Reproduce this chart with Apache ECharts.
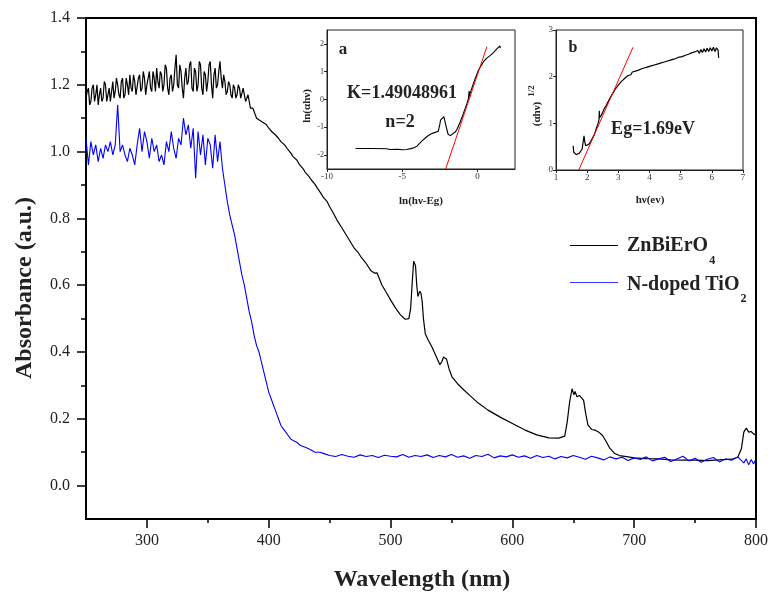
<!DOCTYPE html>
<html><head><meta charset="utf-8">
<script src="https://cdn.jsdelivr.net/npm/echarts@6/dist/echarts.min.js"></script>
<style>html,body{margin:0;padding:0;background:#fff}#c{width:771px;height:598px}</style>
</head><body><div id="c"></div>
<script>
// ---- main plot data (wavelength nm, absorbance a.u.) ----
const znBiErO4 = [
[250,1.16],[251,1.18],[252,1.19],[253,1.14],[254,1.15],[255,1.19],[256,1.2],[257,1.15],[258,1.17],[259,1.2],
[260,1.14],[261,1.17],[262,1.19],[263,1.15],[264,1.16],[265,1.21],[266,1.2],[267,1.15],[268,1.17],[269,1.19],
[270,1.15],[271,1.18],[272,1.21],[273,1.16],[274,1.18],[275,1.22],[276,1.2],[277,1.17],[278,1.16],[279,1.21],
[280,1.22],[281,1.16],[282,1.17],[283,1.22],[284,1.2],[285,1.17],[286,1.23],[287,1.19],[288,1.18],[289,1.23],
[290,1.21],[291,1.17],[292,1.17],[293,1.22],[294,1.23],[295,1.18],[296,1.19],[297,1.24],[298,1.22],[299,1.17],
[300,1.2],[301,1.22],[302,1.24],[303,1.19],[304,1.18],[305,1.24],[306,1.22],[307,1.18],[308,1.25],[309,1.21],
[310,1.19],[311,1.24],[312,1.23],[313,1.18],[314,1.2],[315,1.26],[316,1.25],[317,1.19],[318,1.17],[319,1.22],
[320,1.23],[321,1.18],[322,1.2],[323,1.25],[324,1.29],[325,1.2],[326,1.19],[327,1.26],[328,1.24],[329,1.19],
[330,1.16],[331,1.22],[332,1.25],[333,1.2],[334,1.21],[335,1.26],[336,1.27],[337,1.19],[338,1.18],[339,1.25],
[340,1.24],[341,1.18],[342,1.2],[343,1.27],[344,1.26],[345,1.19],[346,1.17],[347,1.24],[348,1.23],[349,1.18],
[350,1.21],[351,1.26],[352,1.27],[353,1.2],[354,1.16],[355,1.23],[356,1.25],[357,1.19],[358,1.2],[359,1.24],
[360,1.27],[361,1.22],[362,1.19],[363,1.23],[364,1.21],[365,1.17],[366,1.18],[367,1.21],[368,1.2],[369,1.17],
[370,1.16],[371,1.2],[372,1.19],[373,1.16],[374,1.17],[375,1.2],[376,1.19],[377,1.16],[378,1.16],[379,1.19],
[380,1.17],[381,1.15],[382,1.16],[383,1.17],[384,1.15],[385,1.13],[386,1.13],[387,1.13],[388,1.12],[389,1.11],
[390,1.1],[395,1.088],[398,1.081],[400,1.07],[403,1.058],[405,1.052],[408,1.04],[410,1.03],[413,1.02],[415,1.01],[418,0.996],
[420,0.985],[423,0.975],[425,0.962],[428,0.95],[430,0.938],[433,0.926],[435,0.915],[438,0.902],[440,0.89],[443,0.874],
[445,0.862],[448,0.85],[450,0.835],[453,0.816],[456,0.795],[460,0.772],[465,0.742],[470,0.712],[473,0.7],[476,0.683],
[480,0.665],[484,0.643],[487,0.636],[489,0.637],[490.5,0.622],[493,0.6],[497,0.575],[500,0.556],[504,0.532],[508,0.512],
[512,0.498],[515,0.5],[516.5,0.53],[518,0.62],[519,0.672],[520.5,0.658],[521.5,0.6],[522.5,0.566],[524,0.582],[525,0.576],
[526,0.55],[527,0.5],[528.5,0.455],[531,0.435],[534,0.415],[537,0.39],[540.5,0.362],[542,0.37],[543.5,0.385],[546,0.378],
[548,0.35],[550.5,0.325],[555,0.305],[560,0.287],[565,0.27],[572,0.247],[580,0.226],[590,0.205],[600,0.186],[610,0.167],
[620,0.152],[630,0.143],[638,0.142],[643,0.148],[645,0.19],[647,0.25],[649,0.29],[650.5,0.272],[651.5,0.282],[653,0.266],
[655,0.27],[657,0.262],[658.5,0.255],[660,0.22],[662,0.182],[665,0.168],[668,0.166],[671,0.16],[674,0.15],[677,0.132],
[680,0.112],[684,0.096],[688,0.09],[695,0.086],[700,0.083],[710,0.081],[720,0.08],[730,0.077],[740,0.076],[750,0.076],
[760,0.075],[770,0.077],[780,0.079],[785,0.085],[788,0.11],[790,0.16],[792,0.172],[794,0.16],[796,0.162],[798,0.155],[800,0.152]
];
const nDopedTiO2 = [
[250,1.04],[252,0.96],[254,1.03],[256,0.99],[258,1.02],[260,0.97],[262,1.01],[264,0.98],[266,1.02],[268,1.0],
[270,1.03],[272,0.99],[274,1.02],[276,1.14],[278,1.0],[280,1.02],[282,0.99],[284,0.97],[286,1.01],[288,0.99],
[290,0.96],[292,1.02],[294,1.07],[296,1.0],[298,1.06],[300,1.03],[302,0.98],[304,1.04],[306,1.0],[308,1.02],
[310,0.97],[312,0.99],[314,0.96],[316,1.03],[318,1.0],[320,1.06],[322,1.01],[324,0.98],[326,1.04],[328,1.02],
[330,1.1],[332,1.05],[334,1.08],[336,1.01],[338,1.07],[340,0.92],[342,1.06],[344,0.99],[346,1.05],[348,0.96],
[350,1.04],[352,1.02],[354,0.95],[356,1.05],[358,0.97],[360,1.03],[362,0.95],[364,0.9],[366,0.85],[368,0.81],
[370,0.78],[372,0.75],[374,0.71],[376,0.67],[378,0.63],[380,0.6],[382,0.56],[384,0.52],[386,0.49],[388,0.45],
[390,0.42],[392,0.4],[394,0.37],[396,0.34],[398,0.31],[400,0.28],[402,0.26],[404,0.24],[406,0.22],[408,0.2],
[410,0.18],[412,0.17],[414,0.16],[416,0.15],[418,0.14],[420,0.135],[423,0.13],[426,0.12],[430,0.115],[434,0.108],
[438,0.1],[442,0.1],[446,0.095],[450,0.09],[455,0.087],[460,0.093],[465,0.088],[470,0.085],[475,0.092],[480,0.087],
[485,0.09],[490,0.084],[495,0.091],[500,0.088],[505,0.086],[510,0.093],[515,0.085],[520,0.09],[525,0.087],[530,0.092],
[535,0.084],[540,0.09],[545,0.086],[550,0.093],[555,0.085],[560,0.089],[565,0.082],[570,0.09],[575,0.087],[580,0.094],
[585,0.083],[590,0.089],[595,0.086],[600,0.092],[605,0.085],[610,0.089],[615,0.082],[620,0.09],[625,0.084],[630,0.088],
[635,0.08],[640,0.087],[645,0.083],[650,0.09],[655,0.085],[660,0.079],[665,0.088],[670,0.083],[675,0.077],[680,0.086],
[685,0.08],[690,0.085],[695,0.075],[700,0.083],[705,0.078],[710,0.086],[715,0.074],[720,0.08],[725,0.085],[730,0.072],
[735,0.08],[740,0.088],[745,0.074],[750,0.082],[755,0.07],[760,0.079],[765,0.084],[770,0.071],[775,0.08],[780,0.076],
[785,0.086],[790,0.068],[792,0.08],[794,0.062],[796,0.078],[798,0.065],[800,0.08]
];
const mainXTicks = [300,400,500,600,700,800];
const mainXMinor = [350,450,550,650,750];
const mainYTicks = [0.0,0.2,0.4,0.6,0.8,1.0,1.2,1.4];
const mainYMinor = [0.1,0.3,0.5,0.7,0.9,1.1,1.3];

// ---- inset a: ln(alpha h v) vs ln(hv-Eg) ----
const insetA = [
[-8.1,-1.76],[-7,-1.76],[-6.04,-1.77],[-5.8,-1.8],[-5.3,-1.79],[-5,-1.81],[-4.69,-1.8],[-4.3,-1.75],[-4.02,-1.68],
[-3.7,-1.5],[-3.35,-1.33],[-3.1,-1.24],[-2.9,-1.2],[-2.6,-1.14],[-2.5,-0.9],[-2.45,-0.74],[-2.35,-0.7],[-2.23,-0.62],
[-2.1,-0.92],[-1.95,-1.25],[-1.8,-1.3],[-1.7,-1.27],[-1.5,-1.18],[-1.38,-1.1],[-1.15,-0.82],[-0.93,-0.5],[-0.7,-0.15],
[-0.6,0.02],[-0.55,0.3],[-0.5,0.1],[-0.49,0.21],[-0.27,0.57],[-0.1,0.82],[0.07,1.05],[0.25,1.22],[0.4,1.35],
[0.6,1.48],[0.84,1.58],[1.05,1.68],[1.29,1.82],[1.4,1.86],[1.5,1.93],[1.52,1.85]
];
const fitA = [[-2.11,-2.5],[0.63,1.9]];
const insetAXTicks = [-10,-5,0];
const insetAYTicks = [-2,-1,0,1,2];

// ---- inset b: (alpha h v)^1/2 vs hv ----
const insetB = [
[1.55,0.52],[1.57,0.38],[1.6,0.34],[1.65,0.33],[1.7,0.34],[1.75,0.36],[1.8,0.38],[1.84,0.45],[1.87,0.6],[1.9,0.73],
[1.92,0.62],[1.95,0.52],[2.0,0.52],[2.05,0.55],[2.1,0.6],[2.15,0.66],[2.2,0.72],[2.25,0.8],[2.3,0.9],[2.35,1.0],
[2.38,1.08],[2.39,1.27],[2.4,1.12],[2.45,1.17],[2.5,1.24],[2.55,1.32],[2.6,1.37],[2.7,1.5],[2.8,1.62],[2.9,1.73],
[3.0,1.82],[3.1,1.9],[3.2,1.96],[3.3,2.02],[3.35,2.06],[3.4,2.04],[3.45,2.1],[3.5,2.07],[3.55,2.12],[3.6,2.08],
[3.65,2.14],[3.7,2.12],[3.75,2.17],[3.8,2.13],[3.85,2.19],[3.9,2.16],[3.95,2.21],[4.0,2.18],[4.05,2.23],[4.1,2.21],
[4.15,2.25],[4.2,2.21],[4.25,2.27],[4.3,2.25],[4.35,2.29],[4.4,2.26],[4.45,2.31],[4.5,2.29],[4.55,2.33],[4.6,2.3],
[4.65,2.35],[4.7,2.32],[4.75,2.37],[4.8,2.34],[4.85,2.39],[4.9,2.36],[4.95,2.42],[5.0,2.39],[5.05,2.43],[5.1,2.41],
[5.15,2.46],[5.2,2.43],[5.25,2.48],[5.3,2.45],[5.35,2.51],[5.4,2.47],[5.45,2.53],[5.5,2.5],[5.55,2.56],[5.6,2.5],
[5.65,2.58],[5.7,2.52],[5.75,2.6],[5.8,2.53],[5.85,2.61],[5.9,2.54],[5.95,2.62],[6.0,2.55],[6.05,2.63],[6.1,2.54],
[6.15,2.62],[6.2,2.57],[6.22,2.4]
];
const fitB = [[1.73,0],[3.47,2.63]];

const SERIF = '"Liberation Serif", "DejaVu Serif", serif';
const chart = echarts.init(document.getElementById('c'), null, {renderer:'canvas'});

function measure(txt, font){
  const cv = document.createElement('canvas').getContext('2d');
  cv.font = font; return cv.measureText(txt).width;
}
const legFont = 'bold 20px ' + SERIF;
const w1 = measure('ZnBiErO', legFont);
const w2 = measure('N-doped TiO', legFont);

const insetLabel = {fontSize: 9, fontFamily: SERIF, color: '#333', margin: 3};
const insetLine = {onZero: false, lineStyle: {color: '#222', width: 1}};
const insetTick = {length: 3, lineStyle: {color: '#222', width: 1}};

chart.setOption({
  animation: false,
  backgroundColor: '#fff',
  grid: [
    {left: 86, top: 18, right: 12, bottom: 79, show: true, borderColor: '#000', borderWidth: 2, backgroundColor: 'transparent'},
    {left: 327, top: 30, width: 188, height: 139, show: true, borderColor: '#222', borderWidth: 1, backgroundColor: '#fff'},
    {left: 556, top: 30, width: 187, height: 140, show: true, borderColor: '#222', borderWidth: 1, backgroundColor: '#fff'}
  ],
  xAxis: [
    {gridIndex: 0, type: 'value', position: 'bottom', min: 250, max: 800,
     axisLine: {onZero: false, lineStyle: {color: '#000', width: 2}},
     axisTick: {customValues: mainXTicks, length: 9, lineStyle: {color: '#000', width: 1.5}},
     axisLabel: {customValues: mainXTicks, fontSize: 16, fontFamily: SERIF, color: '#222', margin: 14},
     splitLine: {show: false}},
    {gridIndex: 0, type: 'value', position: 'bottom', min: 250, max: 800,
     axisLine: {show: false, onZero: false},
     axisTick: {customValues: mainXMinor, length: 4, lineStyle: {color: '#000', width: 1.5}},
     axisLabel: {show: false}, splitLine: {show: false}},
    {gridIndex: 1, type: 'value', position: 'bottom', min: -10, max: 2.5,
     axisLine: insetLine, axisTick: Object.assign({customValues: insetAXTicks}, insetTick),
     axisLabel: Object.assign({customValues: insetAXTicks}, insetLabel), splitLine: {show: false}},
    {gridIndex: 2, type: 'value', position: 'bottom', min: 1, max: 7, interval: 1,
     axisLine: insetLine, axisTick: insetTick, axisLabel: insetLabel, splitLine: {show: false}}
  ],
  yAxis: [
    {gridIndex: 0, type: 'value', position: 'left', min: -0.1, max: 1.4,
     axisLine: {show: true, onZero: false, lineStyle: {color: '#000', width: 2}},
     axisTick: {show: true, customValues: mainYTicks, length: 9, lineStyle: {color: '#000', width: 1.5}},
     axisLabel: {customValues: mainYTicks, fontSize: 16, fontFamily: SERIF, color: '#222', margin: 16,
       formatter: v => v.toFixed(1)},
     splitLine: {show: false}},
    {gridIndex: 0, type: 'value', position: 'left', min: -0.1, max: 1.4,
     axisLine: {show: false, onZero: false},
     axisTick: {show: true, customValues: mainYMinor, length: 5, lineStyle: {color: '#000', width: 1.5}},
     axisLabel: {show: false}, splitLine: {show: false}},
    {gridIndex: 1, type: 'value', position: 'left', min: -2.5, max: 2.5,
     axisLine: Object.assign({show: true}, insetLine), axisTick: Object.assign({show: true, customValues: insetAYTicks}, insetTick),
     axisLabel: Object.assign({customValues: insetAYTicks}, insetLabel, {fontSize: 8}), splitLine: {show: false}},
    {gridIndex: 2, type: 'value', position: 'left', min: 0, max: 3, interval: 1,
     axisLine: Object.assign({show: true}, insetLine), axisTick: Object.assign({show: true}, insetTick),
     axisLabel: insetLabel, splitLine: {show: false}}
  ],
  series: [
    {type: 'line', name: 'ZnBiErO4', xAxisIndex: 0, yAxisIndex: 0, data: znBiErO4, showSymbol: false,
     lineStyle: {color: '#000', width: 1.2}, itemStyle: {color: '#000'}, z: 3},
    {type: 'line', name: 'N-doped TiO2', xAxisIndex: 0, yAxisIndex: 0, data: nDopedTiO2, showSymbol: false,
     lineStyle: {color: '#0000ff', width: 1.1}, itemStyle: {color: '#0000ff'}, z: 3},
    {type: 'line', xAxisIndex: 2, yAxisIndex: 2, data: insetA, showSymbol: false,
     lineStyle: {color: '#000', width: 1.1}, z: 5},
    {type: 'line', xAxisIndex: 2, yAxisIndex: 2, data: fitA, showSymbol: false,
     lineStyle: {color: '#ff0000', width: 1}, z: 6},
    {type: 'line', xAxisIndex: 3, yAxisIndex: 3, data: insetB, showSymbol: false,
     lineStyle: {color: '#000', width: 1.2}, z: 5},
    {type: 'line', xAxisIndex: 3, yAxisIndex: 3, data: fitB, showSymbol: false,
     lineStyle: {color: '#ff0000', width: 1}, z: 6}
  ],
  graphic: [
    {type: 'text', x: 25, y: 288, rotation: Math.PI/2,
     style: {text: 'Absorbance (a.u.)', font: 'bold 24px ' + SERIF, fill: '#222', align: 'center', verticalAlign: 'middle'}},
    {type: 'text', x: 422, y: 580,
     style: {text: 'Wavelength (nm)', font: 'bold 24px ' + SERIF, fill: '#222', align: 'center', verticalAlign: 'middle'}},
    // legend
    {type: 'line', shape: {x1: 570, y1: 245.5, x2: 618, y2: 245.5}, style: {stroke: '#000', lineWidth: 1}},
    {type: 'line', shape: {x1: 570, y1: 282.5, x2: 618, y2: 282.5}, style: {stroke: '#3333ff', lineWidth: 1}},
    {type: 'text', x: 627, y: 246, style: {text: 'ZnBiErO', font: legFont, fill: '#222', align: 'left', verticalAlign: 'middle'}},
    {type: 'text', x: 627 + w1 + 1, y: 261, style: {text: '4', font: 'bold 12px ' + SERIF, fill: '#222', align: 'left', verticalAlign: 'middle'}},
    {type: 'text', x: 627, y: 285, style: {text: 'N-doped TiO', font: legFont, fill: '#222', align: 'left', verticalAlign: 'middle'}},
    {type: 'text', x: 627 + w2 + 1, y: 299, style: {text: '2', font: 'bold 12px ' + SERIF, fill: '#222', align: 'left', verticalAlign: 'middle'}},
    // inset a texts
    {type: 'text', x: 343, y: 50, z: 100, style: {text: 'a', font: 'bold 17px ' + SERIF, fill: '#222', align: 'center', verticalAlign: 'middle'}},
    {type: 'text', x: 402, y: 93, z: 100, style: {text: 'K=1.49048961', font: 'bold 18px ' + SERIF, fill: '#222', align: 'center', verticalAlign: 'middle'}},
    {type: 'text', x: 400, y: 122, z: 100, style: {text: 'n=2', font: 'bold 18px ' + SERIF, fill: '#222', align: 'center', verticalAlign: 'middle'}},
    {type: 'text', x: 307, y: 106, rotation: Math.PI/2, z: 100, style: {text: 'ln(αhν)', font: 'bold 11px ' + SERIF, fill: '#222', align: 'center', verticalAlign: 'middle'}},
    {type: 'text', x: 421, y: 201, z: 100, style: {text: 'ln(hν-Eg)', font: 'bold 11px ' + SERIF, fill: '#222', align: 'center', verticalAlign: 'middle'}},
    // inset b texts
    {type: 'text', x: 573, y: 48, z: 100, style: {text: 'b', font: 'bold 16px ' + SERIF, fill: '#222', align: 'center', verticalAlign: 'middle'}},
    {type: 'text', x: 653, y: 129, z: 100, style: {text: 'Eg=1.69eV', font: 'bold 18px ' + SERIF, fill: '#222', align: 'center', verticalAlign: 'middle'}},
    {type: 'text', x: 537, y: 114, rotation: Math.PI/2, z: 100, style: {text: '(αhν)', font: 'bold 11px ' + SERIF, fill: '#222', align: 'center', verticalAlign: 'middle'}},
    {type: 'text', x: 532, y: 91, rotation: Math.PI/2, z: 100, style: {text: '1/2', font: 'bold 9px ' + SERIF, fill: '#222', align: 'center', verticalAlign: 'middle'}},
    {type: 'text', x: 650, y: 200, z: 100, style: {text: 'hν(ev)', font: 'bold 11px ' + SERIF, fill: '#222', align: 'center', verticalAlign: 'middle'}}
  ]
});
</script>
</body></html>
